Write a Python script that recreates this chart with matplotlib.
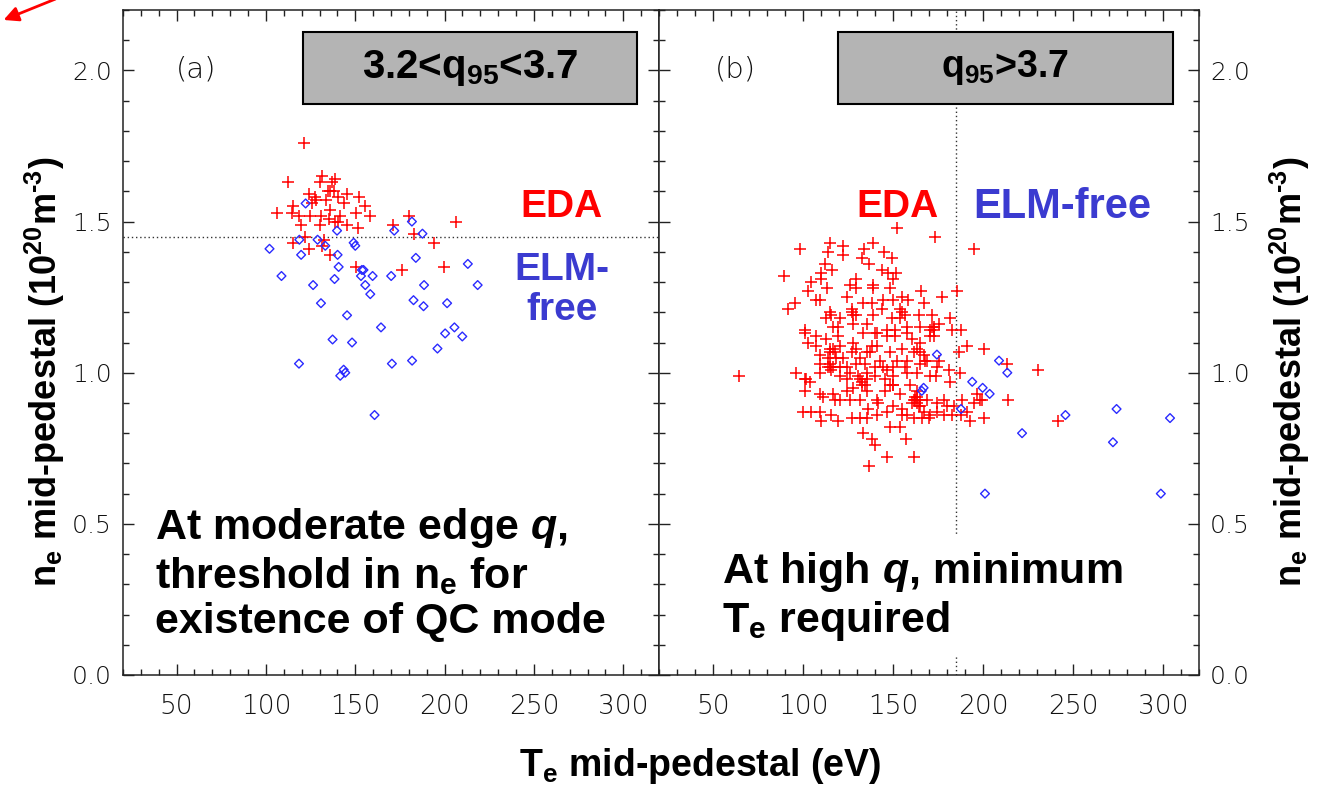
import matplotlib
matplotlib.use("Agg")
import matplotlib.pyplot as plt
from matplotlib.ticker import MultipleLocator, FormatStrFormatter
from matplotlib.patches import Rectangle, FancyArrowPatch

plt.rcParams['mathtext.fontset'] = 'custom'
plt.rcParams['mathtext.rm'] = 'Liberation Sans:bold'
plt.rcParams['mathtext.it'] = 'Liberation Sans:italic:bold'
plt.rcParams['mathtext.bf'] = 'Liberation Sans:bold'

# ---------------- data ----------------
# (a) 3.2 < q95 < 3.7
a_eda_te = [121.5, 112.2, 131.4, 138.5, 130.4, 137.0, 134.5, 136.0, 137.9, 124.3,
            127.6, 128.2, 133.6, 140.1, 145.4, 151.9, 143.5, 125.8, 115.2, 136.0,
            155.2, 150.6, 106.2, 114.6, 118.3, 124.9, 131.0, 141.6, 135.1, 138.8,
            140.1, 158.4, 119.7, 130.4, 145.4, 151.5, 180.3, 171.1, 206.4, 183.1,
            122.1, 115.2, 132.7, 131.4, 124.3, 194.1, 136.0, 150.6, 176.3, 199.5]
a_eda_ne = [1.76, 1.63, 1.65, 1.64, 1.63, 1.63, 1.60, 1.60, 1.60, 1.59,
            1.58, 1.57, 1.57, 1.58, 1.59, 1.58, 1.56, 1.56, 1.55, 1.54,
            1.55, 1.53, 1.53, 1.53, 1.52, 1.52, 1.52, 1.52, 1.51, 1.50,
            1.50, 1.52, 1.49, 1.49, 1.49, 1.48, 1.52, 1.49, 1.50, 1.46,
            1.45, 1.43, 1.44, 1.42, 1.41, 1.43, 1.39, 1.35, 1.34, 1.35]

a_free_te = [122.2, 181.7, 139.8, 171.8, 187.6, 118.7, 128.9, 133.2, 149.1, 150.0,
             102.0, 119.7, 140.1, 183.9, 140.7, 154.6, 153.7, 213.0, 108.7, 138.4,
             153.2, 159.7, 170.1, 126.4, 155.6, 188.5, 218.5, 158.4, 130.8, 182.6,
             188.2, 201.4, 145.4, 164.4, 205.5, 200.3, 209.9, 137.3, 148.2, 196.0,
             118.5, 170.5, 181.8, 141.6, 143.5, 144.4, 160.8]
a_free_ne = [1.56, 1.50, 1.47, 1.47, 1.46, 1.44, 1.44, 1.42, 1.43, 1.42,
             1.41, 1.39, 1.39, 1.38, 1.35, 1.34, 1.34, 1.36, 1.32, 1.31,
             1.32, 1.32, 1.32, 1.29, 1.29, 1.29, 1.29, 1.26, 1.23, 1.24,
             1.22, 1.23, 1.19, 1.15, 1.15, 1.13, 1.12, 1.11, 1.10, 1.08,
             1.03, 1.03, 1.04, 0.99, 1.01, 1.00, 0.86]

# (b) q95 > 3.7
b_eda_te = [152.1, 173.5, 98.1, 114.8, 122.3, 139.1, 133.8, 113.9, 122.3, 145.0, 194.9, 149.3, 132.5,
            112.1, 136.6, 89.7, 110.2, 116.1, 143.7, 147.4, 151.7, 150.2, 104.6, 110.2, 126.0, 129.7,
            139.1, 185.6, 165.7,
            95.3, 102.7, 113.5, 109.3, 107.4, 124.2, 129.7, 139.1, 148.4, 144.6, 150.2, 158.6, 154.9,
            167.0, 177.2, 91.9, 138.1,
            114.8, 127.0, 129.7, 115.8, 113.0, 120.4, 139.1, 149.3, 156.7, 164.2, 171.6, 143.7, 133.5,
            100.9, 107.4, 116.7, 119.5, 127.9, 135.3, 140.9, 146.5, 151.2, 157.7, 165.1, 172.6, 175.4,
            181.9, 187.5, 182.8,
            100.9, 113.0, 119.5, 127.9, 133.5, 140.0, 146.5, 151.2, 157.7, 160.5, 165.1, 170.7, 172.6,
            102.7, 107.4, 114.8, 120.4, 129.7, 135.3, 140.9, 148.4, 154.9, 161.4, 163.3, 167.9, 175.4,
            186.5, 191.2, 200.5, 109.3, 113.9, 118.6, 122.3, 127.0, 131.6,
            109.3, 114.8, 115.8, 124.2, 129.7, 134.4, 140.0, 144.6, 152.1, 156.7, 165.1, 168.8, 174.4,
            181.0, 187.1, 96.2, 64.6, 101.8, 103.7, 120.4, 124.2, 130.7, 135.3, 140.0, 145.6, 150.2,
            157.7, 163.3, 170.7, 174.1, 181.9, 196.8,
            100.9, 109.3, 111.1, 116.7, 117.6, 124.2, 127.9, 132.5, 135.3, 140.9, 145.6, 150.2, 153.9,
            159.5, 163.3, 165.1, 168.8, 174.4, 178.2, 183.7, 194.9, 198.6, 191.2, 99.9, 104.6, 109.3,
            115.8, 120.4, 126.0, 131.6, 136.3, 141.8, 146.5, 150.2, 154.9, 161.4, 162.3, 164.2, 167.0,
            170.7, 180.0, 182.8,
            110.2, 119.5, 127.0, 131.6, 135.3, 140.9, 154.9, 161.4, 166.1, 169.8, 187.5, 200.5, 133.5,
            138.1, 148.4, 153.9, 140.0, 157.1, 146.9, 161.4, 136.6,
            213.2, 230.7, 214.1, 241.9, 188.4, 192.7, 199.6,
            162.3, 163.3, 160.5, 165.1, 163.3, 132.5, 134.4, 131.6, 114.8, 116.7, 113.9, 116.7, 117.6,
            150.2, 148.4, 114.8, 137.2, 138.1, 127.0, 127.9, 153.9, 153.9, 154.9, 170.7, 171.6, 172.6,
            100.9, 165.1, 167.0, 157.7, 142.8, 109.3, 126.0, 135.3, 146.5, 157.7, 174.4, 178.2, 120.4,
            150.2]
b_eda_ne = [1.48, 1.45, 1.41, 1.43, 1.42, 1.43, 1.41, 1.40, 1.39, 1.40, 1.41, 1.38, 1.38,
            1.36, 1.36, 1.32, 1.33, 1.34, 1.34, 1.33, 1.33, 1.31, 1.30, 1.31, 1.29, 1.31,
            1.29, 1.27, 1.27,
            1.23, 1.27, 1.28, 1.24, 1.24, 1.25, 1.28, 1.28, 1.28, 1.24, 1.24, 1.24, 1.25,
            1.23, 1.25, 1.21, 1.23,
            1.20, 1.21, 1.19, 1.19, 1.18, 1.18, 1.19, 1.18, 1.19, 1.19, 1.19, 1.21, 1.23,
            1.14, 1.12, 1.15, 1.15, 1.16, 1.16, 1.13, 1.14, 1.14, 1.15, 1.15, 1.15, 1.16,
            1.18, 1.14, 1.14,
            1.13, 1.11, 1.12, 1.10, 1.13, 1.13, 1.12, 1.12, 1.13, 1.11, 1.10, 1.12, 1.12,
            1.10, 1.09, 1.08, 1.09, 1.08, 1.07, 1.09, 1.07, 1.08, 1.07, 1.08, 1.04, 1.04,
            1.07, 1.09, 1.08, 1.06, 1.05, 1.05, 1.05, 1.07, 1.05,
            1.00, 1.02, 1.01, 1.02, 1.03, 1.03, 1.02, 1.02, 1.04, 1.02, 1.03, 1.04, 1.02,
            1.01, 1.00, 1.00, 0.99, 0.98, 0.97, 0.99, 0.98, 0.99, 0.98, 0.99, 0.98, 0.99,
            1.00, 1.00, 0.99, 0.99, 0.97, 0.93,
            0.94, 0.93, 0.92, 0.93, 0.91, 0.94, 0.95, 0.96, 0.94, 0.91, 0.94, 0.96, 0.93,
            0.96, 0.94, 0.91, 0.91, 0.90, 0.91, 0.89, 0.90, 0.91, 0.87, 0.87, 0.87, 0.87,
            0.86, 0.91, 0.91, 0.91, 0.88, 0.90, 0.87, 0.89, 0.88, 0.91, 0.92, 0.89, 0.87,
            0.86, 0.89, 0.86,
            0.84, 0.84, 0.85, 0.85, 0.85, 0.86, 0.86, 0.85, 0.85, 0.85, 0.86, 0.85, 0.80,
            0.78, 0.82, 0.82, 0.76, 0.78, 0.72, 0.72, 0.69,
            1.03, 1.01, 0.91, 0.84, 0.91, 0.84, 0.91,
            0.91, 0.90, 0.90, 0.89, 0.92, 0.97, 0.96, 0.98, 1.03, 1.02, 1.02, 1.08, 1.07,
            0.96, 0.96, 1.07, 1.07, 1.09, 1.20, 1.19, 1.18, 1.21, 1.20, 1.14, 1.15, 1.14,
            0.98, 1.07, 1.06, 1.04, 1.04, 1.03, 1.00, 1.00, 1.01, 0.86, 0.87, 0.86, 1.02,
            1.02]

b_free_te = [174.4, 166.0, 167.0, 208.9, 213.5, 194.0, 199.8, 203.7,
             187.8, 245.8, 274.2, 303.9, 221.7, 272.2, 201.1, 298.8]
b_free_ne = [1.06, 0.94, 0.95, 1.04, 1.00, 0.97, 0.95, 0.93,
             0.88, 0.86, 0.88, 0.85, 0.80, 0.77, 0.60, 0.60]

ne_threshold = 1.45     # horizontal guide in (a)
te_minimum = 185.0      # vertical guide in (b)

x_range = (20, 320)
y_range = (0.0, 2.2)

# ---------------- styling ----------------
RED = '#ff0000'
BLUE = '#2a2aff'
BLUE_TXT = '#3b3bd0'
BOX_GREY = '#b4b4b4'
TICK_FAMILY = 'DejaVu Sans'
TICK_WEIGHT = 'light'
BOLD = dict(family='Liberation Sans', weight='bold')

W, H = 1327, 786
fig = plt.figure(figsize=(W / 100, H / 100), dpi=100)
axL = fig.add_axes([123 / W, 1 - 675 / H, 536 / W, 665 / H])
axR = fig.add_axes([659 / W, 1 - 675 / H, 540 / W, 665 / H])

for ax in (axL, axR):
    ax.set_xlim(*x_range)
    ax.set_ylim(*y_range)
    ax.xaxis.set_major_locator(MultipleLocator(50))
    ax.xaxis.set_minor_locator(MultipleLocator(10))
    ax.yaxis.set_major_locator(MultipleLocator(0.5))
    ax.yaxis.set_minor_locator(MultipleLocator(0.1))
    ax.yaxis.set_major_formatter(FormatStrFormatter('%.1f'))
    ax.tick_params(which='both', direction='in', top=True, bottom=True,
                   left=True, right=True, color='#222222', labelcolor='#111111')
    ax.tick_params(which='major', length=8, width=1.0)
    ax.tick_params(which='minor', length=4, width=1.0)
    ax.tick_params(axis='x', pad=14, labelsize=19)
    ax.tick_params(axis='y', pad=8, labelsize=18)
    for sp in ax.spines.values():
        sp.set_linewidth(1.1)
        sp.set_color('#222222')

axL.tick_params(axis='y', labelleft=True, labelright=False)
axR.tick_params(axis='y', labelleft=False, labelright=True)

for ax in (axL, axR):
    for lab in ax.get_xticklabels() + ax.get_yticklabels():
        lab.set_fontfamily(TICK_FAMILY)
        lab.set_fontweight(TICK_WEIGHT)

# ---------------- panel (a) ----------------
axL.axhline(ne_threshold, color='#333333', lw=1.0, ls=(0, (1, 2)), zorder=1)
axL.scatter(a_eda_te, a_eda_ne, marker='+', s=64, c=RED, linewidths=1.1, zorder=2)
axL.scatter(a_free_te, a_free_ne, marker='D', s=20, facecolors='none',
            edgecolors=BLUE, linewidths=1.0, zorder=2.5)

axL.add_patch(Rectangle((0.336, 0.859), 0.623, 0.108, transform=axL.transAxes,
                        facecolor=BOX_GREY, edgecolor='black', lw=1.5, zorder=3))
axL.text(0.6475, 0.913, '3.2<q$_\\mathrm{95}$<3.7', transform=axL.transAxes,
         ha='center', va='center', fontsize=29, zorder=4, **BOLD)
axL.text(0.136, 0.91, '(a)', transform=axL.transAxes, ha='center', va='center',
         fontsize=21, family=TICK_FAMILY, weight=TICK_WEIGHT, color='#111111')
axL.text(0.819, 0.704, 'EDA', transform=axL.transAxes, ha='center', va='center',
         fontsize=28, color=RED, **BOLD)
axL.text(0.819, 0.579, 'ELM-\nfree', transform=axL.transAxes, ha='center', va='center',
         fontsize=28, color=BLUE_TXT, linespacing=1.15, **BOLD)
axL.text(0.06, 0.152, 'At moderate edge $q$,\nthreshold in n$_\\mathrm{e}$ for\nexistence of QC mode',
         transform=axL.transAxes, ha='left', va='center', fontsize=31,
         linespacing=1.17, zorder=4, **BOLD)

# ---------------- panel (b) ----------------
axR.axvline(te_minimum, color='#333333', lw=1.0, ls=(0, (1, 2)), zorder=1)
axR.scatter(b_eda_te, b_eda_ne, marker='+', s=64, c=RED, linewidths=1.1, zorder=2)
axR.scatter(b_free_te, b_free_ne, marker='D', s=20, facecolors='none',
            edgecolors=BLUE, linewidths=1.0, zorder=2.5)

axR.add_patch(Rectangle((0.331, 0.859), 0.621, 0.108, transform=axR.transAxes,
                        facecolor=BOX_GREY, edgecolor='black', lw=1.5, zorder=3))
axR.text(0.6415, 0.913, 'q$_\\mathrm{95}$>3.7', transform=axR.transAxes,
         ha='center', va='center', fontsize=27, zorder=4, **BOLD)
axR.text(0.141, 0.91, '(b)', transform=axR.transAxes, ha='center', va='center',
         fontsize=21, family=TICK_FAMILY, weight=TICK_WEIGHT, color='#111111')
axR.text(0.441, 0.704, 'EDA', transform=axR.transAxes, ha='center', va='center',
         fontsize=28, color=RED, **BOLD)
axR.text(0.746, 0.704, 'ELM-free', transform=axR.transAxes, ha='center', va='center',
         fontsize=30, color=BLUE_TXT, **BOLD)
axR.text(0.117, 0.118, 'At high $q$, minimum\nT$_\\mathrm{e}$ required',
         transform=axR.transAxes, ha='left', va='center', fontsize=31,
         linespacing=1.17, zorder=4,
         bbox=dict(facecolor='white', edgecolor='none', pad=10), **BOLD)

# ---------------- axis titles ----------------
ylab = 'n$_\\mathrm{e}$ mid-pedestal (10$^\\mathrm{20}$m$^{\\text{-}3}$)'
fig.text(45 / W, 1 - 372 / H, ylab, rotation=90, ha='center', va='center',
         fontsize=26, **BOLD)
fig.text(1290 / W, 1 - 372 / H, ylab, rotation=90, ha='center', va='center',
         fontsize=26, **BOLD)
fig.text(700 / W, 1 - 766 / H, 'T$_\\mathrm{e}$ mid-pedestal (eV)', ha='center',
         va='center', fontsize=27, **BOLD)

# pointer arrow in the upper-left corner
fig.add_artist(FancyArrowPatch((58 / W, 1 + 2 / H), (1 / W, 1 - 21 / H),
                               transform=fig.transFigure, arrowstyle='-|>',
                               mutation_scale=22, color='red', lw=2.0))

fig.savefig('out.png', dpi=100)
